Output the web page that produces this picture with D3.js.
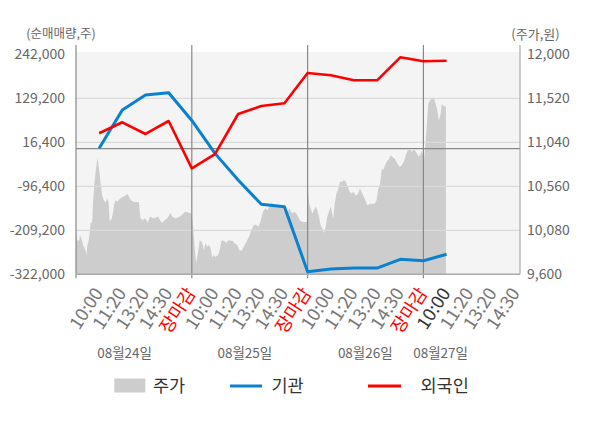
<!DOCTYPE html>
<html><head><meta charset="utf-8">
<script src="https://cdn.jsdelivr.net/npm/d3@7"></script>
<style>body{margin:0;background:#fff;} svg{display:block;font-family:"Noto Sans CJK KR","Noto Sans",sans-serif;}</style>
</head><body><svg id="c" width="600" height="428"></svg>
<script>
// ---- data ----
const xLabels = ["10:00","11:20","13:20","14:30","장마감","10:00","11:20","13:20","14:30","장마감","10:00","11:20","13:20","14:30","장마감","10:00","11:20","13:20","14:30"];
const dates = ["08월24일","08월25일","08월26일","08월27일"];
const leftTicks = [242000,129200,16400,-96400,-209200,-322000];
const rightTicks = [12000,11520,11040,10560,10080,9600];
// net buying (shares) at slots 0..15
const institution = [1000,99200,137700,143600,72500,-12000,-80200,-142500,-148700,-315300,-308400,-306000,-306000,-283500,-287100,-270700];
const foreigner = [39500,67700,37700,71000,-50300,-14000,89000,109500,116400,194100,188200,175300,175300,234300,224100,225600];
// intraday price: time (slot units) and price (won)
const priceT = [-1.0,-0.95,-0.86,-0.83,-0.78,-0.69,-0.59,-0.54,-0.52,-0.46,-0.41,-0.37,-0.30,-0.26,-0.20,-0.16,-0.11,-0.07,-0.03,0.02,0.06,0.13,0.20,0.28,0.35,0.41,0.45,0.52,0.58,0.64,0.71,0.78,0.85,0.92,1.04,1.14,1.21,1.28,1.36,1.50,1.71,1.79,1.87,1.96,2.05,2.10,2.19,2.36,2.54,2.63,2.72,2.83,2.94,3.08,3.15,3.30,3.49,3.59,3.69,3.80,3.87,3.95,4.00,
 4.05,4.12,4.19,4.26,4.34,4.41,4.48,4.52,4.58,4.67,4.73,4.81,4.88,4.95,5.01,5.13,5.20,5.27,5.34,5.42,5.49,5.56,5.68,5.78,5.85,5.96,6.06,6.16,6.28,6.39,6.50,6.60,6.68,6.78,6.89,7.00,7.07,7.17,7.26,7.36,7.46,7.55,7.65,7.75,7.86,8.01,8.12,8.22,8.32,8.44,8.55,8.66,8.80,8.96,9.00,
 9.00,9.02,9.07,9.13,9.20,9.27,9.35,9.42,9.49,9.56,9.63,9.71,9.78,9.85,9.92,10.00,10.06,10.11,10.17,10.24,10.31,10.40,10.50,10.57,10.64,10.71,10.82,10.89,10.97,11.08,11.18,11.26,11.36,11.46,11.58,11.68,11.79,11.90,11.98,12.04,12.13,12.20,12.27,12.34,12.42,12.52,12.59,12.66,12.76,12.87,12.98,13.06,13.16,13.24,13.32,13.42,13.50,13.59,13.67,13.76,13.85,13.91,14.00,
 14.03,14.10,14.14,14.21,14.29,14.38,14.45,14.53,14.60,14.67,14.74,14.79,14.86,14.94,14.97];
const priceV = [10080,9970,9970,10030,10000,9920,9860,9810,9900,9960,10050,10160,10170,10410,10600,10700,10810,10870,10790,10700,10600,10460,10410,10380,10430,10380,10190,10190,10250,10350,10410,10390,10410,10430,10450,10460,10480,10450,10410,10390,10390,10210,10190,10210,10190,10160,10230,10210,10230,10190,10160,10190,10210,10270,10230,10210,10230,10250,10280,10280,10270,10270,10250,
 10120,9900,9720,9830,9970,9960,9920,9860,9940,9900,9920,9890,9780,9810,9790,9810,9860,9960,9970,9960,9940,9970,9970,9960,9940,9920,9860,9860,9920,9970,10030,10100,10140,10140,10120,10210,10280,10320,10300,10350,10380,10340,10350,10340,10350,10320,10280,10320,10270,10280,10250,10190,10170,10170,10170,
 10550,10500,10370,10320,10260,10300,10340,10300,10230,10140,10100,10050,10120,10230,10280,10340,10260,10210,10370,10480,10520,10610,10610,10630,10610,10570,10500,10480,10500,10460,10480,10540,10480,10430,10350,10370,10370,10370,10410,10520,10590,10750,10740,10790,10830,10860,10900,10880,10860,10810,10770,10790,10830,10900,10950,10960,10940,10960,10940,10900,10890,10950,10880,
 10860,11060,11210,11460,11500,11520,11530,11460,11390,11280,11340,11460,11440,11430,11430];

// ---- layout ----
const L = 76, R = 520, T = 54.3, B = 274.3;
const svg = d3.select("#c");
const x = d3.scaleLinear().domain([-1, 18.17]).range([L, R]);
const yL = d3.scaleLinear().domain([-322000, 242000]).range([B, T]);
const yR = d3.scaleLinear().domain([9600, 12000]).range([B, T]);
const fmt = v => d3.format(",")(v).replace("\u2212", "-");
const grey = "#666";

svg.append("rect").attr("x", L).attr("y", 52).attr("width", R - L).attr("height", B - 52).attr("fill", "#f4f4f4");

// price area
svg.append("defs").append("clipPath").attr("id","clip").append("rect").attr("x",L).attr("y",40).attr("width",R-L).attr("height",B-40);
const pts = priceT.map((t,i)=>[t, priceV[i]]);
svg.append("path").datum(pts)
  .attr("clip-path","url(#clip)")
  .attr("fill", "#cdcdcd")
  .attr("d", d3.area().x(d=>x(d[0])).y0(yR(9600)).y1(d=>yR(d[1])));

// gridlines
svg.append("g").selectAll("line").data(leftTicks.slice(1, -1)).join("line")
  .attr("x1", L).attr("x2", R).attr("y1", d=>yL(d)).attr("y2", d=>yL(d))
  .attr("stroke", "#d9d9d9").attr("stroke-width", 1.2);

// zero line
svg.append("line").attr("x1", L).attr("x2", R).attr("y1", yL(0)).attr("y2", yL(0)).attr("stroke", "#888").attr("stroke-width", 1.2);

// day separators and axes
svg.append("g").selectAll("line").data([-1, 4, 9, 14]).join("line")
  .attr("x1", d=>x(d)).attr("x2", d=>x(d)).attr("y1", 45).attr("y2", B + 4)
  .attr("stroke", "#888").attr("stroke-width", 1.2);
svg.append("line").attr("x1", R).attr("x2", R).attr("y1", 45).attr("y2", B).attr("stroke", "#aaa").attr("stroke-width", 1.2);
svg.append("line").attr("x1", L).attr("x2", R).attr("y1", B).attr("y2", B).attr("stroke", "#aaa").attr("stroke-width", 1.5);

// lines
const line = d3.line().x((d,i)=>x(i)).y(d=>yL(d));
svg.append("path").datum(institution).attr("fill","none").attr("stroke","#0a80d0").attr("stroke-width",3).attr("stroke-linejoin","round").attr("d", line);
svg.append("path").datum(foreigner).attr("fill","none").attr("stroke","#ff0000").attr("stroke-width",2.6).attr("stroke-linejoin","round").attr("d", line);

// y tick labels
svg.append("g").selectAll("text").data(leftTicks).join("text")
  .attr("x", 65).attr("y", d=>yL(d)).attr("dy","0.35em").attr("text-anchor","end")
  .attr("font-size", 14).attr("fill", grey).text(fmt);
svg.append("g").selectAll("text").data(rightTicks).join("text")
  .attr("x", 527).attr("y", d=>yR(d)).attr("dy","0.35em").attr("text-anchor","start")
  .attr("font-size", 14).attr("fill", grey).text(fmt);
svg.append("text").attr("x", 61).attr("y", 34).attr("dy","0.35em").attr("text-anchor","middle").attr("font-size",12.5).attr("fill",grey).text("(순매매량,주)");
svg.append("text").attr("x", 535.5).attr("y", 34).attr("dy","0.35em").attr("text-anchor","middle").attr("font-size",13).attr("fill",grey).text("(주가,원)");

// x labels
svg.append("g").selectAll("text").data(xLabels).join("text")
  .attr("transform", (d,i)=>`translate(${x(i)+4.5},${293}) rotate(-57)`)
  .attr("text-anchor","end").attr("font-size", 18)
  .attr("fill", (d,i)=> d==="장마감" ? "#ff0000" : (i===15 ? "#333" : "#777"))
  .text(d=>d);

// date labels
const datePos = [1.1, 6.29, 11.49, 14.74];
svg.append("g").selectAll("text").data(dates).join("text")
  .attr("x", (d,i)=>x(datePos[i])).attr("y", 353).attr("dy","0.35em").attr("text-anchor","middle")
  .attr("font-size", 13.5).attr("fill", grey).text(d=>d);

// legend
const lg = svg.append("g").attr("font-size", 17.5).attr("fill", "#333");
lg.append("rect").attr("x",114.3).attr("y",378.5).attr("width",31).attr("height",14).attr("fill","#cdcdcd");
lg.append("text").attr("x",153).attr("y",386).attr("dy","0.35em").text("주가");
lg.append("line").attr("x1",230).attr("x2",262).attr("y1",386).attr("y2",386).attr("stroke","#0a80d0").attr("stroke-width",3);
lg.append("text").attr("x",271.5).attr("y",386).attr("dy","0.35em").text("기관");
lg.append("line").attr("x1",368).attr("x2",401).attr("y1",386).attr("y2",386).attr("stroke","#ff0000").attr("stroke-width",3);
lg.append("text").attr("x",420.5).attr("y",386).attr("dy","0.35em").text("외국인");
</script></body></html>
